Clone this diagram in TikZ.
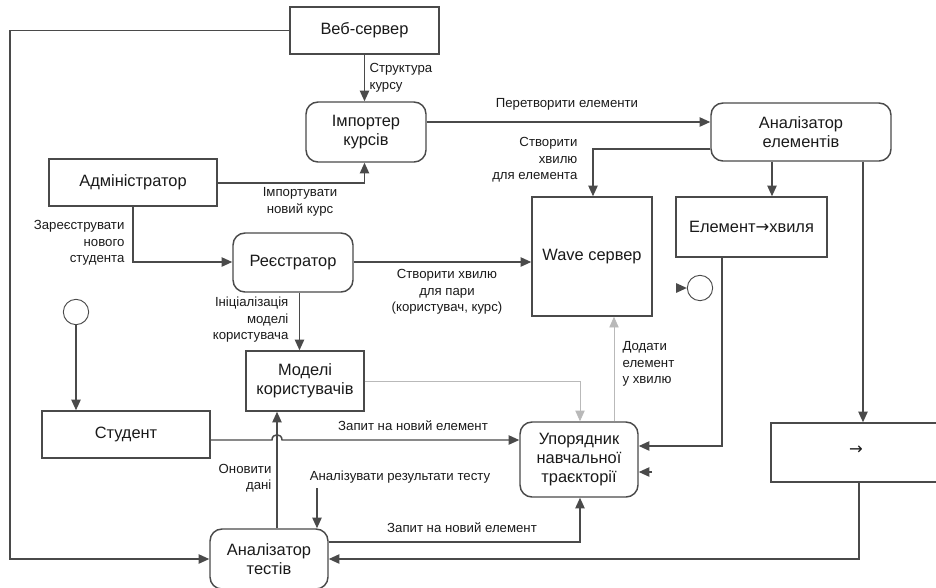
\documentclass[tikz,border=0pt]{standalone}
\usepackage{fontspec}
\setmainfont{Liberation Sans}
\newfontfamily\arrowfont{DejaVu Sans}
\usepackage{xcolor}
\usepackage{tikz}
\usetikzlibrary{arrows.meta}
\definecolor{line}{HTML}{4A4A4A}
\definecolor{txt}{HTML}{1A1A1A}

\begin{document}
\begin{tikzpicture}[x=0.75pt, y=-0.75pt,
  font=\fontsize{12.3}{14.5}\selectfont, text=txt,
  box/.style={draw=line, line width=1.1pt, fill=white, align=center, inner sep=2pt},
  rbox/.style={box, rounded corners=9pt},
  lbl/.style={font=\fontsize{9.9}{12.4}\selectfont, inner sep=1pt},
  arr/.style={-{Triangle[length=8pt,width=7pt]}, draw=line, line width=1.1pt},
  faint/.style={draw=gray!55, line width=0.6pt, -{Triangle[length=8pt,width=7pt]}},
  circ/.style={circle, draw=line, line width=0.7pt, minimum size=19pt, inner sep=0pt}
]
\useasboundingbox (0,0) rectangle (936,587);

\node[box, minimum width=111.75pt, minimum height=35.25pt] (web) at (364.5,30.5) {Веб-сервер};
\node[rbox, minimum width=90pt, minimum height=45pt] (imp) at (366,132) {Імпортер\\курсів};
\node[rbox, minimum width=135pt, minimum height=43.5pt] (anel) at (801,132) {Аналізатор\\елементів};
\node[box, minimum width=126pt, minimum height=35.25pt] (adm) at (133,182.5) {Адміністратор};
\node[rbox, minimum width=90pt, minimum height=44.25pt] (reg) at (293,262.5) {Реєстратор};
\node[box, minimum width=90pt, minimum height=89.25pt] (wave) at (592,256.5) {Wave сервер};
\node[box, minimum width=113.25pt, minimum height=45pt] (elw) at (751.5,227) {Елемент{\arrowfont →}хвиля};
\node[box, minimum width=127.5pt, minimum height=44.25pt] (map) at (856,452.5) {\raisebox{4pt}{\arrowfont →}};
\node[box, minimum width=126pt, minimum height=35.25pt] (stud) at (126,434.5) {Студент};
\node[box, minimum width=88.5pt, minimum height=45pt] (mod) at (305,381) {Моделі\\користувачів};
\node[rbox, minimum width=88.5pt, minimum height=56.25pt] (upr) at (579,459.5) {Упорядник\\навчальної\\траєкторії};
\node[rbox, minimum width=88.5pt, minimum height=45pt] (ant) at (269,559) {Аналізатор\\тестів};
\node[circ] (start) at (76,312) {};
\node[circ] (stop) at (700,288) {};

% bend points
\coordinate (lft) at (10,30.5);
\coordinate (a1) at (0,122);
\coordinate (a2) at (0,149);
\coordinate (a3) at (0,183);
\coordinate (a4) at (0,262);
\coordinate (a5) at (0,440);
\coordinate (a6) at (0,446);
\coordinate (a8) at (0,542);
\coordinate (xw) at (593,0);
\coordinate (xu) at (580,0);
\coordinate (xl) at (772,0);
\coordinate (xr) at (863,0);
\coordinate (xe) at (722,0);
\coordinate (xm) at (859,0);
\coordinate (xv) at (614,0);
\coordinate (xa) at (277,0);
\coordinate (xi) at (299.5,0);
\coordinate (an) at (317,488);
\coordinate (st1) at (652,472);
\coordinate (st2) at (676.5,288);

\draw[arr] (web.south) -- (web.south |- imp.north);
\node[lbl, anchor=west, align=left] (l1) at (368,78) {Структура\\курсу};
\draw[arr] (web.west) -- (lft) -- (lft |- ant.west) -- (ant.west);

\draw[arr] (imp.east |- a1) -- (anel.west |- a1);
\node[lbl] (l2) at (567,104) {Перетворити елементи};

\draw[arr] (adm.east |- a3) -| (web.south |- imp.south);
\node[lbl, align=center] (l3) at (300,202) {Імпортувати\\новий курс};

\draw[arr] (adm.south) |- (reg.west |- a4);
\node[lbl, anchor=east, align=right] (l4) at (126,243) {Зареєструвати\\нового\\студента};

\draw[arr] (reg.east |- a4) -- (wave.west |- a4);
\node[lbl, align=center] (l5) at (447,292) {Створити хвилю\\для пари\\(користувач, курс)};

\draw[arr] (anel.west |- a2) -| (xw |- wave.north);
\node[lbl, anchor=east, align=right] (l6) at (579,160) {Створити\\хвилю\\для елемента};

\draw[arr] (xl |- anel.south) -- (xl |- elw.north);
\draw[arr] (xr |- anel.south) -- (xr |- map.north);
\draw[arr] (xe |- elw.south) -- (xe |- a6) -- (upr.east |- a6);
\draw[arr] (xm |- map.south) -- (xm |- ant.east) -- (ant.east);

\draw[arr] (st2) -- (stop.west);
\draw[arr] (st1) -- (upr.east |- st1);

\draw[arr] (start.south) -- (start.south |- stud.north);

\draw[arr] (xi |- reg.south) -- (xi |- mod.north);
\node[lbl, anchor=east, align=right] (l7) at (290,320) {Ініціалізація\\моделі\\користувача};

\draw[arr] (stud.east |- a5) -- (272,440) .. controls (272,433) and (282,433) .. (282,440) -- (upr.west |- a5);
\node[lbl] (l8) at (413,426) {Запит на новий елемент};

\draw[faint] (mod.east) -| (xu |- upr.north);
\draw[faint] (xv |- upr.north) -- (xv |- wave.south);
\node[lbl, anchor=west, align=left] (l9) at (621,364) {Додати\\елемент\\у хвилю};

\draw[arr] (xa |- ant.north) -- (xa |- mod.south);
\node[lbl, anchor=east, align=right] (l10) at (273,478) {Оновити\\дані};

\draw[arr] (an) -- (an |- ant.north);
\node[lbl] (l11) at (400,477) {Аналізувати результати тесту};

\draw[arr] (ant.east |- a8) -| (xu |- upr.south);
\node[lbl] (l12) at (462,528) {Запит на новий елемент};
\end{tikzpicture}
\end{document}
